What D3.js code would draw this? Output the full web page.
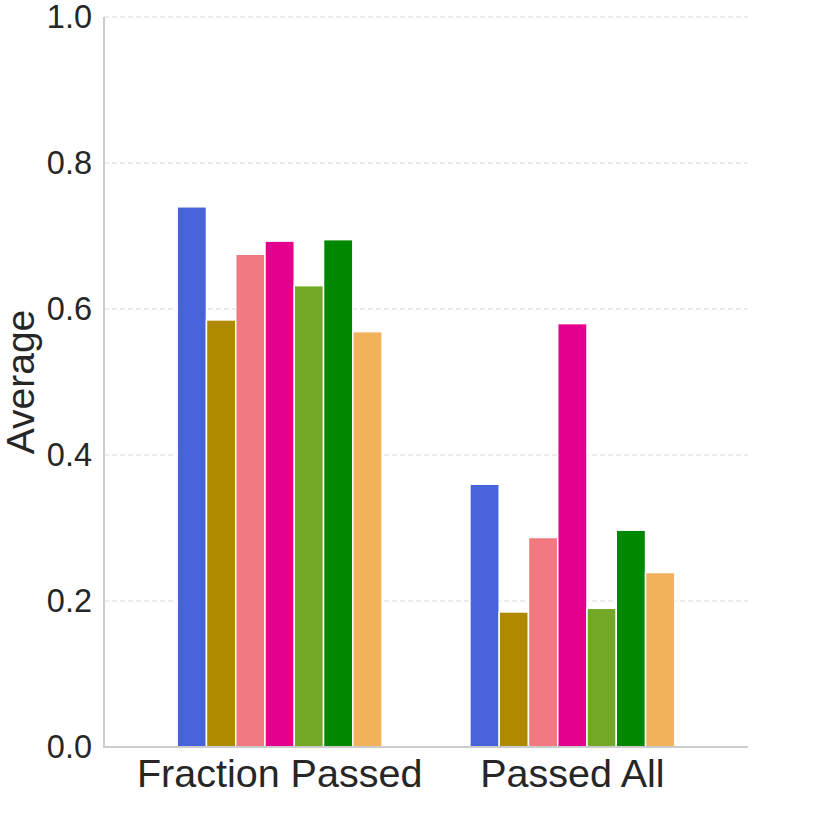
<!DOCTYPE html>
<html>
<head>
<meta charset="utf-8">
<script src="https://cdn.jsdelivr.net/npm/d3@7"></script>
<style>
  html, body { margin: 0; padding: 0; background: #fff; }
  text { font-family: "Liberation Sans", Arial, Helvetica, sans-serif; fill: #262626; }
</style>
</head>
<body>
<svg id="chart" width="830" height="830"></svg>
<script>
const categories = ["Fraction Passed", "Passed All"];
const seriesNames = ["s1", "s2", "s3", "s4", "s5", "s6", "s7"];
const seriesColors = ["#4763d9", "#af8a00", "#f07a7f", "#e4008c", "#73a826", "#008800", "#f2b25b"];
const fractionPassed = [0.740, 0.585, 0.675, 0.693, 0.632, 0.695, 0.569];
const passedAll = [0.360, 0.185, 0.287, 0.580, 0.190, 0.297, 0.239];
const yTicks = [0.0, 0.2, 0.4, 0.6, 0.8, 1.0];
const yLabel = "Average";

const valuesByCategory = [fractionPassed, passedAll];
const data = [];
categories.forEach((c, ci) => {
  seriesNames.forEach((s, si) => {
    data.push({ cat: c, series: s, value: valuesByCategory[ci][si], color: seriesColors[si] });
  });
});

const svg = d3.select("#chart");
const mLeft = 104, mRight = 748, mTop = 17, mBottom = 747;

const x = d3.scaleBand().domain(categories).range([mLeft, mRight]).paddingInner(0.3).paddingOuter(0.25);
const xs = d3.scaleBand().domain(seriesNames).range([0, x.bandwidth()]).padding(0);
const y = d3.scaleLinear().domain([0, 1]).range([mBottom, mTop]);

// gridlines
svg.append("g").selectAll("line").data(yTicks.filter(d => d > 0)).join("line")
  .attr("x1", mLeft).attr("x2", mRight)
  .attr("y1", d => y(d)).attr("y2", d => y(d))
  .attr("stroke", "#d9d9d9").attr("stroke-width", 1)
  .attr("stroke-dasharray", "5,3");

// bars
svg.append("g").selectAll("rect").data(data).join("rect")
  .attr("x", d => x(d.cat) + xs(d.series))
  .attr("width", xs.bandwidth())
  .attr("y", d => y(d.value))
  .attr("height", d => y(0) - y(d.value))
  .attr("fill", d => d.color)
  .attr("stroke", "#ffffff")
  .attr("stroke-width", 1.5);

// y axis
const yAxis = d3.axisLeft(y).tickValues(yTicks).tickFormat(d3.format(".1f")).tickSize(0).tickPadding(12);
const gy = svg.append("g").attr("transform", `translate(${mLeft},0)`).call(yAxis);
gy.select(".domain").remove();
gy.selectAll("text").style("font-size", "32.5px").attr("fill", "#262626");

// x axis
const xAxis = d3.axisBottom(x).tickSize(0).tickPadding(11);
const gx = svg.append("g").attr("transform", `translate(0,${mBottom})`).call(xAxis);
gx.select(".domain").remove();
gx.selectAll("text").style("font-size", "39.5px").attr("fill", "#262626").attr("dy", "0.74em");

// spines
svg.append("line").attr("x1", mLeft).attr("x2", mLeft).attr("y1", mTop).attr("y2", mBottom + 1)
  .attr("stroke", "#cccccc").attr("stroke-width", 2);
svg.append("line").attr("x1", mLeft - 1).attr("x2", mRight).attr("y1", mBottom).attr("y2", mBottom)
  .attr("stroke", "#cccccc").attr("stroke-width", 2);

// y label
svg.append("text")
  .attr("transform", `translate(34,${(mTop + mBottom) / 2}) rotate(-90)`)
  .attr("text-anchor", "middle")
  .style("font-size", "39px")
  .text(yLabel);
</script>
</body>
</html>
